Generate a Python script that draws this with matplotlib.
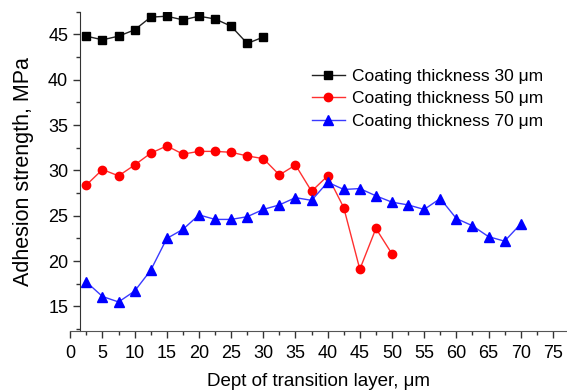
import matplotlib.pyplot as plt
from matplotlib.ticker import MultipleLocator

# depth of transition layer, um
x30 = [2.5, 5, 7.5, 10, 12.5, 15, 17.5, 20, 22.5, 25, 27.5, 30]
y30 = [44.8, 44.4, 44.8, 45.5, 46.9, 47.0, 46.6, 47.0, 46.7, 45.9, 44.0, 44.7]

x50 = [2.5, 5, 7.5, 10, 12.5, 15, 17.5, 20, 22.5, 25, 27.5, 30, 32.5, 35,
       37.5, 40, 42.5, 45, 47.5, 50]
y50 = [28.4, 30.1, 29.4, 30.6, 31.9, 32.7, 31.8, 32.1, 32.1, 32.0, 31.6, 31.3,
       29.5, 30.6, 27.7, 29.4, 25.9, 19.1, 23.6, 20.8]

x70 = [2.5, 5, 7.5, 10, 12.5, 15, 17.5, 20, 22.5, 25, 27.5, 30, 32.5, 35,
       37.5, 40, 42.5, 45, 47.5, 50, 52.5, 55, 57.5, 60, 62.5, 65, 67.5, 70]
y70 = [17.7, 16.1, 15.5, 16.7, 19.0, 22.5, 23.5, 25.1, 24.6, 24.6, 24.9, 25.7,
       26.2, 27.0, 26.7, 28.7, 27.9, 28.0, 27.2, 26.5, 26.2, 25.7, 26.9, 24.7,
       23.9, 22.7, 22.2, 24.1]

plt.rcParams['font.family'] = ['Liberation Sans', 'DejaVu Sans']

fig = plt.figure(figsize=(5.67, 3.91), dpi=100)
ax = fig.add_axes([0.124, 0.1535, 0.876, 0.8166])

ax.plot(x30, y30, color='#222222', lw=1, marker='s', ms=5.5, mfc='black', mec='black',
        label='Coating thickness 30 μm')
ax.plot(x50, y50, color='#ff3030', lw=1, marker='o', ms=6, mfc='red', mec='red',
        label='Coating thickness 50 μm')
ax.plot(x70, y70, color='#3a3aff', lw=1, marker='^', ms=6.5, mfc='blue', mec='blue',
        label='Coating thickness 70 μm')

ax.set_xlim(0, 77.2)
ax.set_ylim(12.3, 47.5)
ax.xaxis.set_major_locator(MultipleLocator(5))
ax.xaxis.set_minor_locator(MultipleLocator(2.5))
ax.yaxis.set_major_locator(MultipleLocator(5))
ax.yaxis.set_minor_locator(MultipleLocator(2.5))

ax.spines['top'].set_visible(False)
ax.spines['right'].set_visible(False)
ax.spines['left'].set_position(('data', 1.5))
ax.spines['left'].set_color('#333333')
ax.spines['bottom'].set_color('#555555')
ax.tick_params(which='major', direction='out', length=5, width=1, labelsize=13,
               color='#333333')
ax.tick_params(axis='x', which='major', pad=5)
ax.tick_params(which='minor', direction='out', length=3, width=1, color='#333333')

ax.set_xlabel('Dept of transition layer, μm', fontsize=13.5, labelpad=8)
ax.set_ylabel('Adhesion strength, MPa', fontsize=15.5, labelpad=10)

ax.legend(loc='upper left', bbox_to_anchor=(0.538, 0.842), bbox_transform=fig.transFigure,
          borderaxespad=0, frameon=False, fontsize=12.5,
          handlelength=1.9, handletextpad=0.4, labelspacing=0.42)

fig.savefig('out.png', dpi=100)
